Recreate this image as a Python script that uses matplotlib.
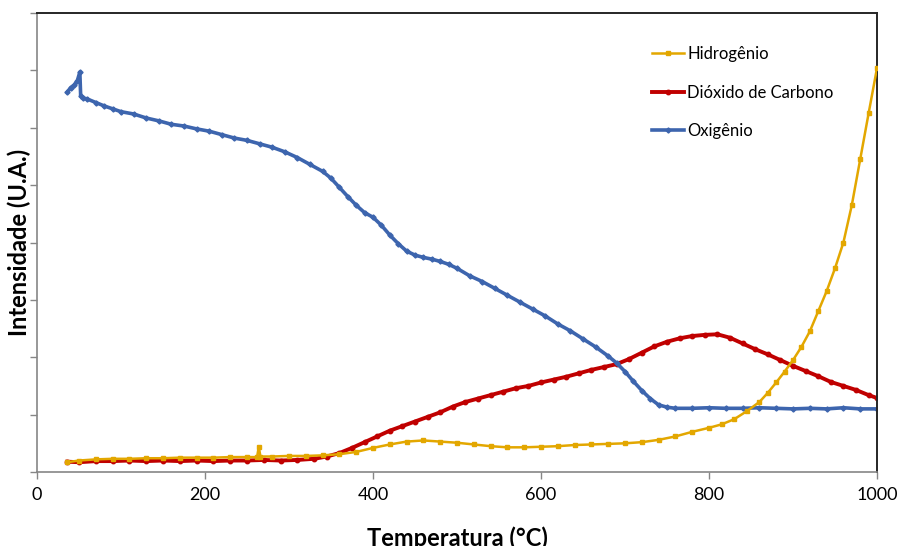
import matplotlib
matplotlib.use("Agg")
import matplotlib.pyplot as plt

plt.rcParams['font.family'] = ['Lato', 'DejaVu Sans']

# Hidrogênio (H2)
t_h2 = [36, 50, 70, 90, 110, 130, 150, 170, 190, 210, 230, 250, 262, 264, 266, 280, 300,
        320, 340, 360, 380, 400, 420, 440, 460, 480, 500, 520, 540, 560, 580, 600, 620,
        640, 660, 680, 700, 720, 740, 760, 780, 800, 815, 830, 845, 860, 870, 880, 890,
        900, 910, 920, 930, 940, 950, 960, 970, 980, 990, 1000]
v_h2 = [0.17, 0.20, 0.22, 0.23, 0.23, 0.24, 0.24, 0.25, 0.25, 0.25, 0.26, 0.26, 0.26, 0.44,
        0.27, 0.27, 0.28, 0.28, 0.29, 0.31, 0.35, 0.42, 0.48, 0.53, 0.55, 0.53, 0.51, 0.48,
        0.45, 0.43, 0.43, 0.44, 0.45, 0.47, 0.48, 0.49, 0.50, 0.52, 0.56, 0.62, 0.70, 0.77,
        0.83, 0.92, 1.06, 1.22, 1.38, 1.56, 1.75, 1.95, 2.18, 2.45, 2.80, 3.15, 3.55, 4.00,
        4.65, 5.45, 6.25, 7.04]

# Dióxido de Carbono (CO2)
t_co2 = [36, 50, 70, 90, 110, 130, 150, 170, 190, 210, 230, 250, 270, 290, 310, 330, 345,
         360, 375, 390, 405, 420, 435, 450, 465, 480, 495, 510, 525, 540, 555, 570, 585,
         600, 615, 630, 645, 660, 675, 690, 705, 720, 735, 750, 765, 780, 795, 810, 825,
         840, 855, 870, 885, 900, 915, 930, 945, 960, 975, 990, 1000]
v_co2 = [0.18, 0.17, 0.19, 0.19, 0.20, 0.19, 0.20, 0.19, 0.20, 0.19, 0.20, 0.20, 0.21, 0.20,
         0.21, 0.23, 0.27, 0.33, 0.42, 0.52, 0.62, 0.72, 0.80, 0.88, 0.96, 1.04, 1.14, 1.22,
         1.28, 1.34, 1.40, 1.46, 1.50, 1.56, 1.61, 1.66, 1.72, 1.78, 1.83, 1.88, 1.97, 2.08,
         2.19, 2.27, 2.33, 2.37, 2.39, 2.40, 2.34, 2.24, 2.14, 2.05, 1.95, 1.85, 1.76, 1.67,
         1.57, 1.50, 1.43, 1.34, 1.29]

# Oxigênio (O2)
t_o2 = [36, 40, 44, 48, 51, 52, 55, 60, 70, 80, 90, 100, 115, 130, 145, 160, 175, 190, 205,
        220, 235, 250, 265, 280, 295, 310, 325, 340, 350, 360, 370, 380, 390, 400, 410, 420,
        430, 440, 450, 460, 470, 480, 490, 500, 515, 530, 545, 560, 575, 590, 605, 620, 635,
        650, 665, 680, 690, 700, 710, 720, 730, 740, 750, 760, 780, 800, 820, 840, 860, 880,
        900, 920, 940, 960, 980, 1000]
v_o2 = [6.62, 6.70, 6.74, 6.82, 6.97, 6.55, 6.52, 6.50, 6.44, 6.38, 6.33, 6.28, 6.24, 6.17,
        6.12, 6.06, 6.03, 5.98, 5.94, 5.88, 5.82, 5.78, 5.72, 5.66, 5.58, 5.48, 5.36, 5.24,
        5.12, 4.96, 4.80, 4.65, 4.52, 4.44, 4.30, 4.13, 3.98, 3.85, 3.78, 3.74, 3.71, 3.67,
        3.62, 3.55, 3.42, 3.32, 3.20, 3.08, 2.96, 2.84, 2.72, 2.58, 2.46, 2.32, 2.18, 2.02,
        1.90, 1.75, 1.58, 1.42, 1.28, 1.17, 1.13, 1.11, 1.11, 1.12, 1.11, 1.11, 1.12, 1.11,
        1.10, 1.11, 1.10, 1.12, 1.10, 1.10]

labels = ["Hidrogênio", "Dióxido de Carbono", "Oxigênio"]
x_ticks = [0, 200, 400, 600, 800, 1000]

fig = plt.figure(figsize=(9, 5.46), dpi=100)
ax = fig.add_axes([37/900, 1-472/546, (877-37)/900, (472-13)/546])

c_h2, c_co2, c_o2 = "#E3A700", "#C00000", "#3D65AE"
ax.plot(t_h2, v_h2, color=c_h2, lw=1.8, marker='s', ms=3.2, label=labels[0], zorder=3)
ax.plot(t_co2, v_co2, color=c_co2, lw=2.8, marker='o', ms=3.2, label=labels[1], zorder=2)
ax.plot(t_o2, v_o2, color=c_o2, lw=2.6, marker='D', ms=2.6, label=labels[2], zorder=2)

ax.set_xlim(0, 1000)
ax.set_ylim(0, 8)
ax.set_xticks(x_ticks)
ax.set_xticklabels([str(v) for v in x_ticks], fontsize=13)
ax.set_yticks(range(0, 9))
ax.set_yticklabels([])
ax.tick_params(axis='both', direction='out', length=5, width=1, color='#868686')
ax.tick_params(axis='x', pad=6)

for s in ['left', 'bottom']:
    ax.spines[s].set_color('#868686')
    ax.spines[s].set_linewidth(1.2)
for s in ['top', 'right']:
    ax.spines[s].set_color('#262626')
    ax.spines[s].set_linewidth(1.4)

ax.set_xlabel("Temperatura (°C)", fontsize=17, fontweight='bold')
ax.set_ylabel("Intensidade (U.A.)", fontsize=17, fontweight='bold')
ax.xaxis.set_label_coords(0.5, (472-526)/459)
ax.yaxis.set_label_coords((31-37)/840, 0.5)

leg = ax.legend(loc='upper left', bbox_to_anchor=(644/900, 1-38/546),
                bbox_transform=fig.transFigure, frameon=False, fontsize=12,
                handlelength=1.9, handletextpad=0.2, labelspacing=1.35, borderpad=0)

fig.savefig("out.png", dpi=100)
